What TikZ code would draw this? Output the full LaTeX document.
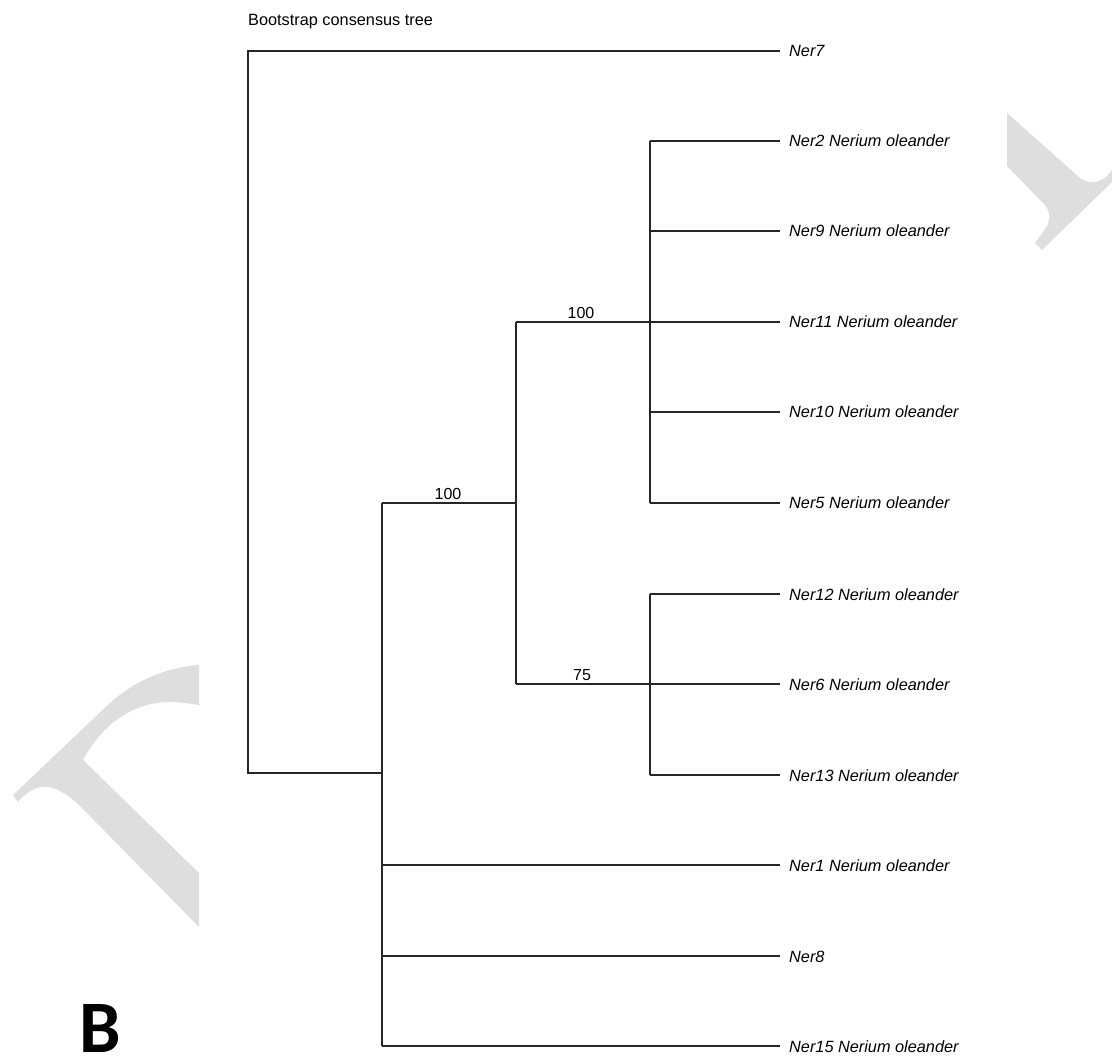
\documentclass[tikz,border=0pt]{standalone}
\usepackage{fontspec}
\setmainfont{Liberation Sans}
\newfontfamily\panelfont{Carlito}
\begin{document}
\begin{tikzpicture}[x=1pt,y=-1pt,
  branch/.style={line width=1.4pt,draw=black!85},
  taxon/.style={anchor=base west,font=\fontsize{16.3}{18}\selectfont\itshape,inner sep=0pt},
  support/.style={anchor=base,font=\fontsize{16}{18}\selectfont,inner sep=0pt},
  mark/.style={fill=black!13,draw=none}]
\useasboundingbox (0,0) rectangle (1112,1056);
\fill[white] (0,0) rectangle (1112,1056);

% light grey corner marks
\fill[black!13] (1007,113) -- (1080,178) .. controls (1092,186) and (1104,182) .. (1112,170)
  -- (1112,182) -- (1042,250) -- (1035,243) -- (1046,228)
  .. controls (1052,218) and (1050,208) .. (1040,200) -- (1007,166) -- cycle;
\fill[black!13] (199,665) .. controls (160,668) and (130,685) .. (110,703)
  -- (13,795) -- (18,802) .. controls (28,790) and (40,784) .. (53,788)
  .. controls (62,791) and (70,797) .. (77,803) -- (199,927) -- (199,873)
  -- (83,760) .. controls (100,728) and (130,702) .. (170,702)
  .. controls (182,702) and (192,704) .. (199,705) -- cycle;

% title and panel letter
\node[anchor=base west,inner sep=0pt,font=\fontsize{16.3}{18}\selectfont] (title) at (248,26) {Bootstrap consensus tree};
\node[anchor=base west,inner sep=0pt,font=\panelfont\bfseries\fontsize{74}{76}\selectfont] (panel) at (79,1052) {B};

% internal nodes
\coordinate (root) at (248,773);
\coordinate (na) at (382,773);
\coordinate (nb) at (516,503);
\coordinate (nc) at (650,322);
\coordinate (nd) at (650,684);

% leaf tips
\coordinate (t7) at (780,51);
\coordinate (t2) at (780,141);
\coordinate (t9) at (780,231);
\coordinate (t11) at (780,322);
\coordinate (t10) at (780,412);
\coordinate (t5) at (780,503);
\coordinate (t12) at (780,594);
\coordinate (t6) at (780,684);
\coordinate (t13) at (780,775);
\coordinate (t1) at (780,865);
\coordinate (t8) at (780,956);
\coordinate (t15) at (780,1046);

% branches
\draw[branch] (t7) -| (root) -- (na);
\draw[branch] (na |- nb) -- (na |- t15);
\draw[branch] (na |- nb) -- (nb);
\draw[branch] (nb |- t11) -- (nb |- t6);
\draw[branch] (nb |- t11) -- (t11);
\draw[branch] (nb |- t6) -- (t6);
\draw[branch] (nc |- t2) -- (nc |- t5);
\draw[branch] (nc |- t2) -- (t2);
\draw[branch] (nc |- t9) -- (t9);
\draw[branch] (nc |- t10) -- (t10);
\draw[branch] (nc |- t5) -- (t5);
\draw[branch] (nd |- t12) -- (nd |- t13);
\draw[branch] (nd |- t12) -- (t12);
\draw[branch] (nd |- t13) -- (t13);
\draw[branch] (na |- t1) -- (t1);
\draw[branch] (na |- t8) -- (t8);
\draw[branch] (na |- t15) -- (t15);

% support values
\node[support] (s1) at (448,500) {100};
\node[support] (s2) at (581,319) {100};
\node[support] (s3) at (582,680) {75};

% taxon labels
\node[taxon] (l7) at (789,57) {Ner7};
\node[taxon] (l2) at (789,147) {Ner2 Nerium oleander};
\node[taxon] (l9) at (789,237) {Ner9 Nerium oleander};
\node[taxon] (l11) at (789,328) {Ner11 Nerium oleander};
\node[taxon] (l10) at (789,418) {Ner10 Nerium oleander};
\node[taxon] (l5) at (789,509) {Ner5 Nerium oleander};
\node[taxon] (l12) at (789,600) {Ner12 Nerium oleander};
\node[taxon] (l6) at (789,690) {Ner6 Nerium oleander};
\node[taxon] (l13) at (789,781) {Ner13 Nerium oleander};
\node[taxon] (l1) at (789,871) {Ner1 Nerium oleander};
\node[taxon] (l8) at (789,962) {Ner8};
\node[taxon] (l15) at (789,1052) {Ner15 Nerium oleander};
\end{tikzpicture}
\end{document}
